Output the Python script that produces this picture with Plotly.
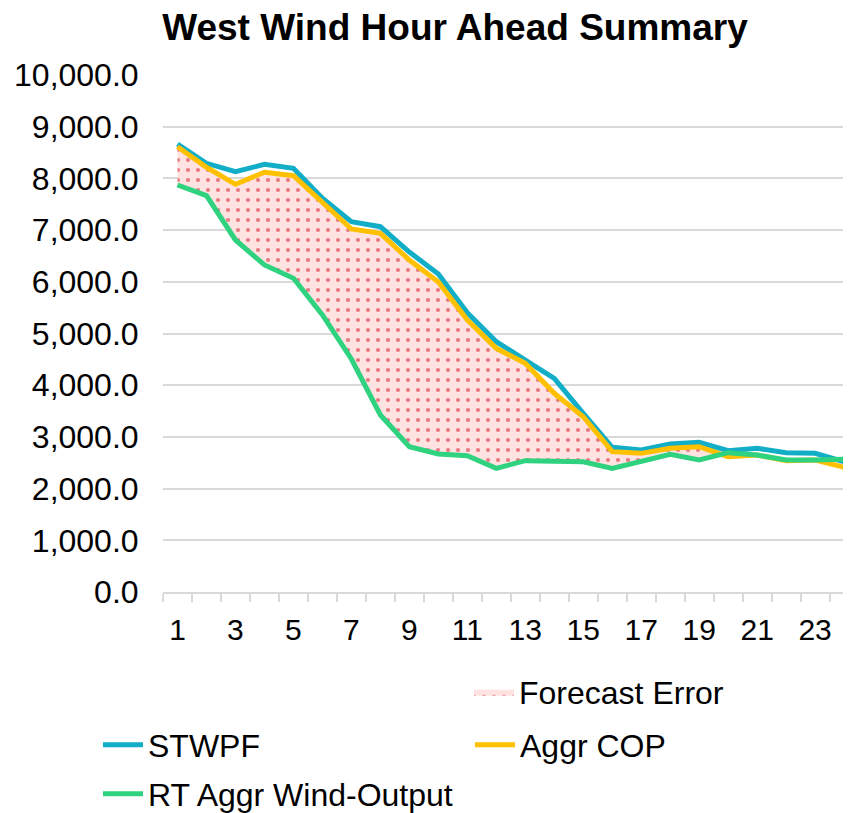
import plotly.graph_objects as go

hours = list(range(1, 25))
x_tick_vals = [1, 3, 5, 7, 9, 11, 13, 15, 17, 19, 21, 23]
x_tick_text = [str(v) for v in x_tick_vals]
y_tick_vals = [0, 1000, 2000, 3000, 4000, 5000, 6000, 7000, 8000, 9000, 10000]
y_tick_text = ["0.0", "1,000.0", "2,000.0", "3,000.0", "4,000.0", "5,000.0",
               "6,000.0", "7,000.0", "8,000.0", "9,000.0", "10,000.0"]

stwpf = [8665, 8292, 8130, 8272, 8195, 7615, 7163, 7066, 6576, 6150, 5400, 4842,
         4487, 4133, 3456, 2798, 2747, 2863, 2895, 2733, 2779, 2695, 2682, 2521]
aggr_cop = [8613, 8215, 7886, 8118, 8053, 7530, 7021, 6938, 6422, 5996, 5260, 4713,
            4424, 3843, 3391, 2714, 2682, 2779, 2811, 2617, 2650, 2540, 2553, 2412]
rt_output = [7872, 7666, 6809, 6325, 6068, 5358, 4507, 3424, 2811, 2669, 2637, 2392,
             2540, 2534, 2520, 2392, 2540, 2663, 2553, 2695, 2650, 2553, 2553, 2566]

BLUE = "#12AEC7"
ORANGE = "#FFC000"
GREEN = "#2ED27F"
FONT = "Liberation Sans, Arial, sans-serif"

# page body has an 8px margin; figure is sized/positioned to compensate
OFF = 8
W, H = 851 - OFF, 813 - OFF

fig = go.Figure()

# fill base (invisible)
fig.add_trace(go.Scatter(x=hours, y=rt_output, mode="lines", line=dict(width=0),
                         showlegend=False, hoverinfo="skip"))
fig.add_trace(go.Scatter(x=hours, y=aggr_cop, mode="lines", line=dict(width=0),
                         fill="tonexty", fillcolor="#FFE2E2",
                         fillpattern=dict(shape=".", fgcolor="#D0101F", bgcolor="#FFE2E2",
                                          size=10, solidity=0.14, fillmode="overlay"),
                         name="Forecast Error", legend="legend", hoverinfo="skip"))
fig.add_trace(go.Scatter(x=hours, y=stwpf, mode="lines", line=dict(color=BLUE, width=5),
                         name="STWPF", legend="legend2"))
fig.add_trace(go.Scatter(x=hours, y=aggr_cop, mode="lines", line=dict(color=ORANGE, width=5),
                         name="Aggr COP", legend="legend3"))
fig.add_trace(go.Scatter(x=hours, y=rt_output, mode="lines", line=dict(color=GREEN, width=5),
                         name="RT Aggr Wind-Output", legend="legend4"))

x0_px = 162.6 - OFF
x1_px = 851.0 - OFF
cat_w = 29.0
x_range = [0.5, 0.5 + (x1_px - x0_px) / cat_w]

legend_common = dict(font=dict(family=FONT, size=32, color="#000000"),
                     bgcolor="rgba(0,0,0,0)", xref="container", yref="container",
                     xanchor="left", yanchor="middle", itemwidth=40,
                     orientation="h")

def lx(px):
    return (px - OFF) / W

def ly(py):
    return 1 - (py - OFF) / H

fig.update_layout(
    width=W, height=H,
    paper_bgcolor="white", plot_bgcolor="white",
    margin=dict(l=x0_px, r=0, t=75 - OFF, b=H - (592 - OFF), autoexpand=False),
    font=dict(family=FONT, size=32, color="#000000"),
    title=dict(text="<b>West Wind Hour Ahead Summary</b>", font=dict(family=FONT, size=37, color="#000000"),
               x=lx(455), xanchor="center", xref="container",
               y=ly(27), yanchor="middle", yref="container"),
    xaxis=dict(range=x_range, tickmode="array", tickvals=x_tick_vals, ticktext=x_tick_text,
               showgrid=False, zeroline=False, showline=True, linecolor="#D9D9D9", linewidth=2,
               ticks="outside", ticklen=10, tickcolor="rgba(0,0,0,0)",
               tickfont=dict(family=FONT, size=30, color="#000000"),
               minor=dict(tickmode="array", tickvals=[h + 0.5 for h in range(0, 25)],
                          ticks="outside", ticklen=8, tickwidth=1.5, tickcolor="#D9D9D9",
                          showgrid=False)),
    yaxis=dict(range=[0, 10000], tickmode="array", tickvals=y_tick_vals, ticktext=y_tick_text,
               showgrid=True, gridcolor="#D9D9D9", gridwidth=2, zeroline=False, showline=False,
               ticks="outside", ticklen=17, tickcolor="rgba(0,0,0,0)",
               tickfont=dict(family=FONT, size=32, color="#000000")),
    legend=dict(**legend_common, x=lx(448 + 21), y=ly(692)),
    legend2=dict(**legend_common, x=lx(75 + 23), y=ly(745)),
    legend3=dict(**legend_common, x=lx(453 + 17), y=ly(745)),
    legend4=dict(**legend_common, x=lx(75 + 23), y=ly(794)),
    hovermode=False,
)

fig.write_html("out.html", config={"displayModeBar": False})
